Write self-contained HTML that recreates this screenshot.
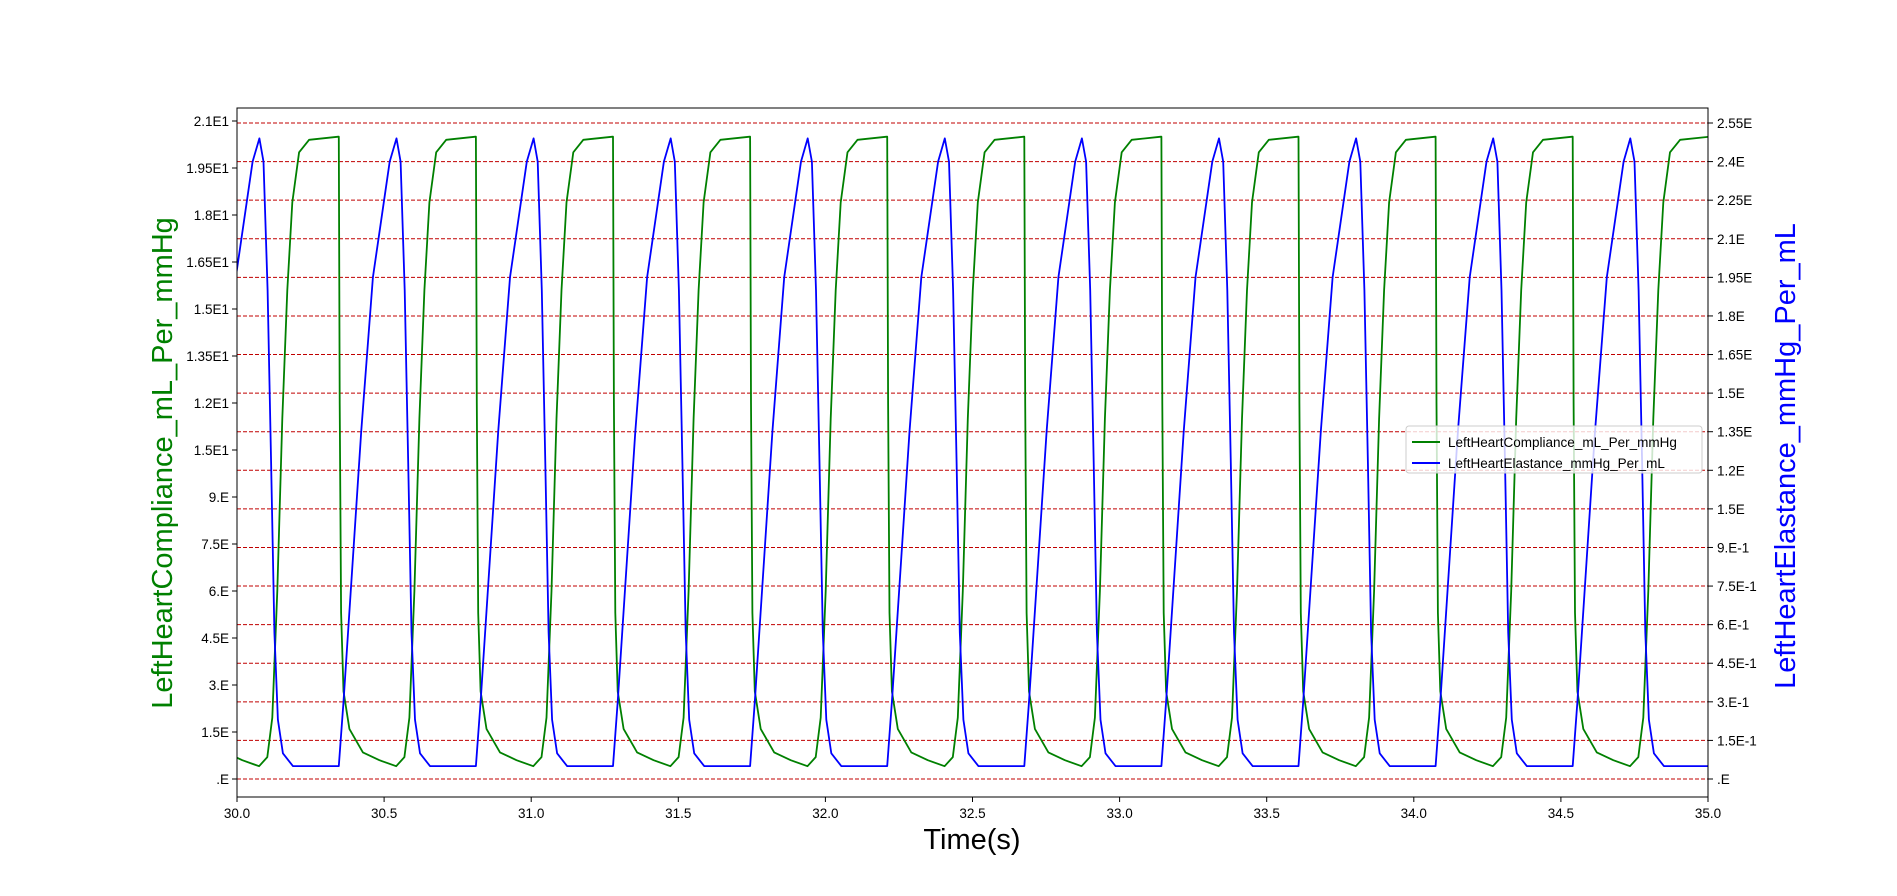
<!DOCTYPE html>
<html><head><meta charset="utf-8"><style>
body{margin:0;background:#fff;}
svg{display:block;font-family:"Liberation Sans","DejaVu Sans",sans-serif;}
</style></head><body>
<svg id="chart" width="1897" height="896" viewBox="0 0 1897 896">
<rect width="1897" height="896" fill="#fff"/>
<g id="grid"></g>
<g id="series"></g>
<rect x="237" y="108" width="1471" height="689" fill="none" stroke="#000" stroke-width="1"/>
<g id="xaxis"></g>
<g id="yleft"></g>
<g id="yright"></g>
<text x="972" y="849" font-size="29" text-anchor="middle" fill="#000">Time(s)</text>
<text transform="translate(172,463) rotate(-90)" font-size="29" text-anchor="middle" fill="green">LeftHeartCompliance_mL_Per_mmHg</text>
<text transform="translate(1795,456) rotate(-90)" font-size="29" text-anchor="middle" fill="blue">LeftHeartElastance_mmHg_Per_mL</text>
<g>
<rect x="1406" y="426" width="296" height="47" rx="3" fill="#fff" fill-opacity="0.8" stroke="#ccc"/>
<line x1="1412" y1="442" x2="1440" y2="442" stroke="green" stroke-width="2"/>
<text x="1448" y="447" font-size="13.5" fill="#000">LeftHeartCompliance_mL_Per_mmHg</text>
<line x1="1412" y1="463" x2="1440" y2="463" stroke="blue" stroke-width="2"/>
<text x="1448" y="468" font-size="13.5" fill="#000">LeftHeartElastance_mmHg_Per_mL</text>
</g>
</svg>
<script>
// data
const beatStarts = [29.880, 30.346, 30.812, 31.278, 31.744, 32.210, 32.676, 33.142, 33.608, 34.074, 34.540, 35.006];
const elastDt = [0, 0.016, 0.076, 0.116, 0.173, 0.196, 0.210, 0.224, 0.236, 0.247, 0.259, 0.276, 0.310, 0.465];
const elastVal = [0.05, 0.30, 1.35, 1.95, 2.40, 2.49, 2.40, 1.90, 1.23, 0.57, 0.23, 0.10, 0.05, 0.05];
const complDt = [0, 0.003, 0.008, 0.016, 0.036, 0.082, 0.138, 0.195, 0.223, 0.240, 0.257, 0.274, 0.291, 0.308, 0.331, 0.365, 0.465];
const complVal = [20.5, 12.0, 5.3, 2.8, 1.6, 0.85, 0.6, 0.41, 0.7, 1.96, 6.0, 11.5, 15.6, 18.4, 20.0, 20.4, 20.5];
const xTicks = [30.0, 30.5, 31.0, 31.5, 32.0, 32.5, 33.0, 33.5, 34.0, 34.5, 35.0];
const leftTickVals = [0, 1.5, 3, 4.5, 6, 7.5, 9, 10.5, 12, 13.5, 15, 16.5, 18, 19.5, 21];
const leftTickLabels = [".E", "1.5E", "3.E", "4.5E", "6.E", "7.5E", "9.E", "1.5E1", "1.2E1", "1.35E1", "1.5E1", "1.65E1", "1.8E1", "1.95E1", "2.1E1"];
const rightTickVals = [0, 0.15, 0.3, 0.45, 0.6, 0.75, 0.9, 1.05, 1.2, 1.35, 1.5, 1.65, 1.8, 1.95, 2.1, 2.25, 2.4, 2.55];
const rightTickLabels = [".E", "1.5E-1", "3.E-1", "4.5E-1", "6.E-1", "7.5E-1", "9.E-1", "1.5E", "1.2E", "1.35E", "1.5E", "1.65E", "1.8E", "1.95E", "2.1E", "2.25E", "2.4E", "2.55E"];

const NS = "http://www.w3.org/2000/svg";
const X0 = 237, X1 = 1708, T0 = 30, T1 = 35;
const x = t => X0 + (t - T0) / (T1 - T0) * (X1 - X0);
const yL = v => 779 - v * (658 / 21);
const yR = v => 779 - v * (656 / 2.55);
function mk(tag, attrs, parent) {
  const e = document.createElementNS(NS, tag);
  for (const k in attrs) e.setAttribute(k, attrs[k]);
  parent.appendChild(e);
  return e;
}
const grid = document.getElementById('grid');
rightTickVals.forEach(v => {
  const l = mk('line', {x1: X0, x2: X1, y1: yR(v), y2: yR(v), stroke: '#c00000', 'stroke-width': 1, 'stroke-dasharray': '4,2'}, grid);
  
  
});
const xa = document.getElementById('xaxis');
xTicks.forEach(t => {
  const l = mk('line', {x1: x(t), x2: x(t), y1: 797, y2: 802, stroke: '#000'}, xa);
  
  
  const tx = mk('text', {x: x(t), y: 818, 'font-size': 13.5, 'text-anchor': 'middle'}, xa);
  tx.textContent = t.toFixed(1);
  
  
});
const yl = document.getElementById('yleft');
leftTickVals.forEach((v, i) => {
  const l = mk('line', {x1: 232, x2: 237, y1: yL(v), y2: yL(v), stroke: '#000'}, yl);
  
  
  const tx = mk('text', {x: 229, y: yL(v) + 5, 'font-size': 13.5, 'text-anchor': 'end'}, yl);
  tx.textContent = leftTickLabels[i];
  
  
});
const yr = document.getElementById('yright');
rightTickVals.forEach((v, i) => {
  const l = mk('line', {x1: 1708, x2: 1713, y1: yR(v), y2: yR(v), stroke: '#000'}, yr);
  
  
  const tx = mk('text', {x: 1717, y: yR(v) + 5, 'font-size': 13.5, 'text-anchor': 'start'}, yr);
  tx.textContent = rightTickLabels[i];
  
  
});
function buildPath(dts, vals, yf) {
  const pts = [];
  beatStarts.forEach(s => {
    dts.forEach((d, i) => { pts.push([s + d, vals[i]]); });
  });
  return pts.filter(p => p[0] >= T0 - 0.5 && p[0] <= T1 + 0.5)
    .map((p, i) => (i ? 'L' : 'M') + x(p[0]).toFixed(1) + ',' + yf(p[1]).toFixed(1)).join(' ');
}
const ser = document.getElementById('series');
const clip = mk('clipPath', {id: 'plotclip'}, ser);
mk('rect', {x: X0, y: 108, width: X1 - X0, height: 689}, clip);
const pc = mk('path', {d: buildPath(complDt, complVal, yL), fill: 'none', stroke: 'green', 'stroke-width': 1.8, 'clip-path': 'url(#plotclip)', 'stroke-linejoin': 'round'}, ser);


const pe = mk('path', {d: buildPath(elastDt, elastVal, yR), fill: 'none', stroke: 'blue', 'stroke-width': 1.8, 'clip-path': 'url(#plotclip)', 'stroke-linejoin': 'round'}, ser);


</script>
</body></html>
